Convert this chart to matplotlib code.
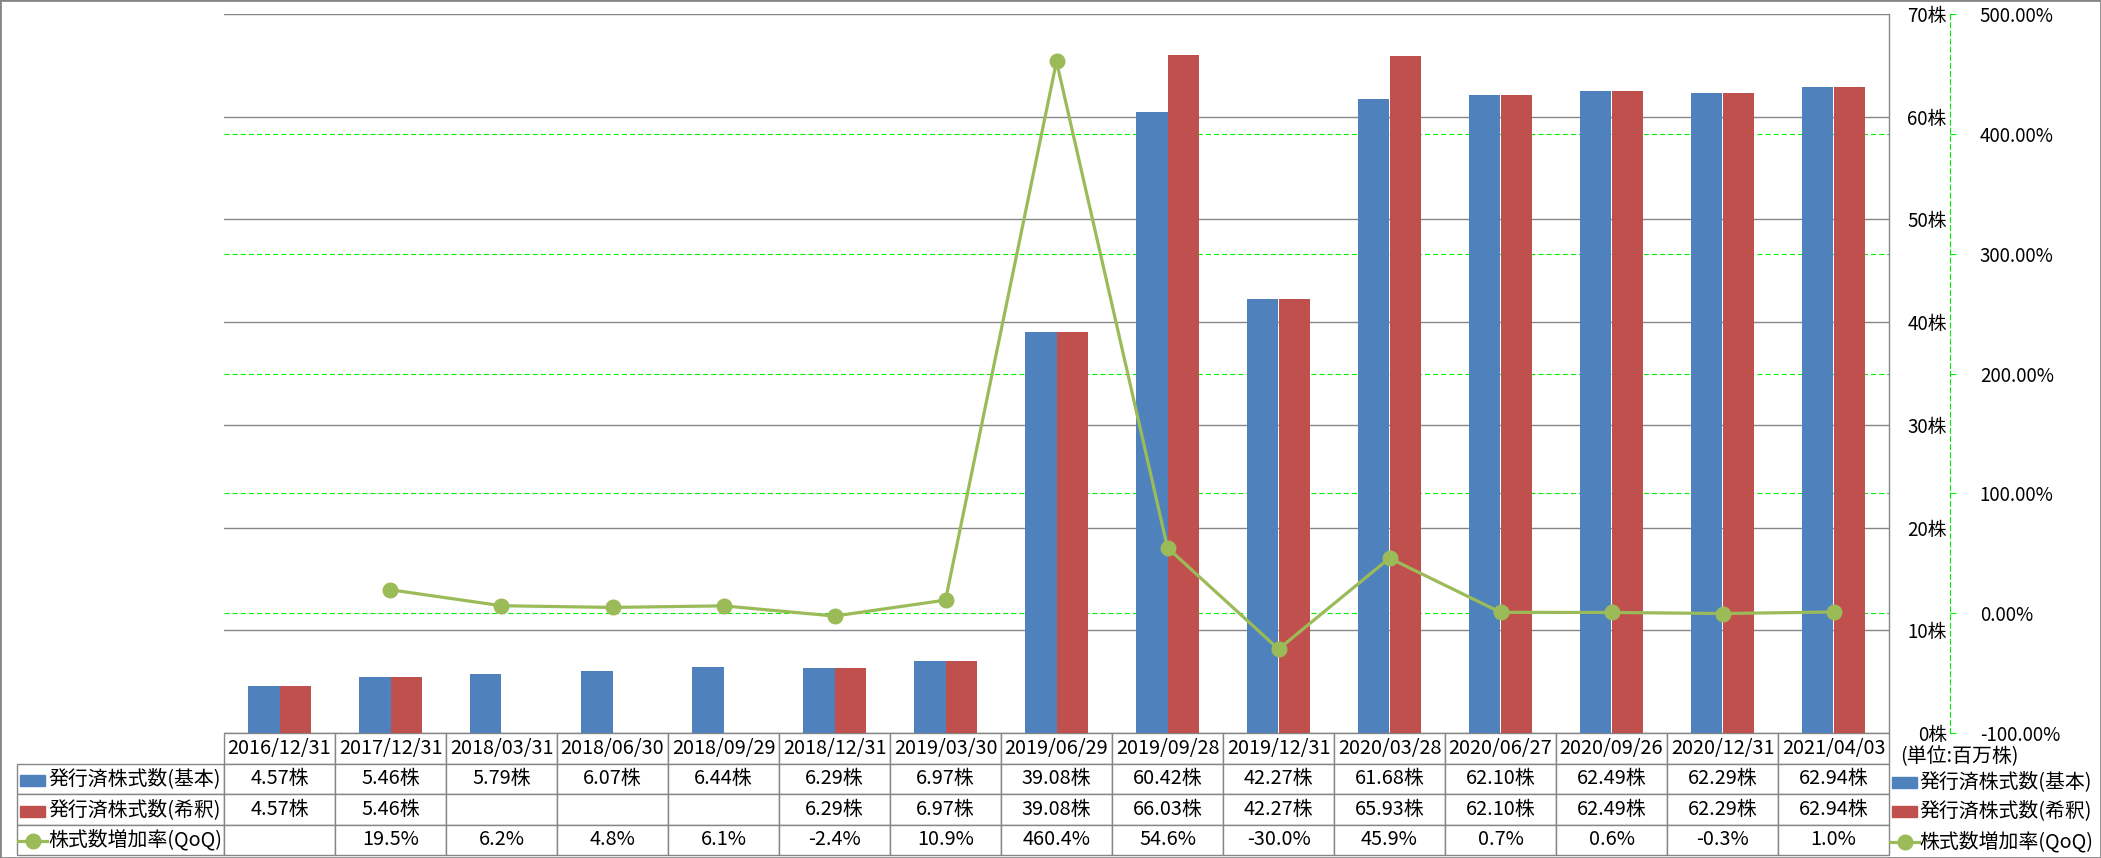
import numpy as np
import matplotlib
matplotlib.use("Agg")
import matplotlib.pyplot as plt
from matplotlib.patches import Rectangle
from matplotlib.lines import Line2D
from matplotlib.table import Table

plt.rcParams['font.family'] = ['Noto Sans CJK JP', 'DejaVu Sans']

# data
dates = ['2016/12/31', '2017/12/31', '2018/03/31', '2018/06/30', '2018/09/29',
         '2018/12/31', '2019/03/30', '2019/06/29', '2019/09/28', '2019/12/31',
         '2020/03/28', '2020/06/27', '2020/09/26', '2020/12/31', '2021/04/03']
basic = [4.57, 5.46, 5.79, 6.07, 6.44, 6.29, 6.97, 39.08, 60.42, 42.27,
         61.68, 62.10, 62.49, 62.29, 62.94]
diluted = [4.57, 5.46, np.nan, np.nan, np.nan, 6.29, 6.97, 39.08, 66.03, 42.27,
           65.93, 62.10, 62.49, 62.29, 62.94]
qoq = [np.nan, 19.5, 6.2, 4.8, 6.1, -2.4, 10.9, 460.4, 54.6, -30.0,
       45.9, 0.7, 0.6, -0.3, 1.0]
names = ['発行済株式数(基本)', '発行済株式数(希釈)', '株式数増加率(QoQ)']
share_ticks = [0, 10, 20, 30, 40, 50, 60, 70]
pct_ticks = [-1, 0, 1, 2, 3, 4, 5]

BLUE = '#4F81BD'
RED = '#C0504D'
GREEN = '#9BBB59'
LIME = '#00EE00'
GRAY = '#868686'
FS = 13.5     # tick labels
FS_T = 14.3   # table and legend text

W, H = 2101, 858
fig = plt.figure(figsize=(W / 100, H / 100), dpi=100)
fig.patch.set_facecolor('white')


def fx(x):
    return x / W


def fy(y):
    return 1 - y / H


rect = [fx(224), fy(733), 1665 / W, 719 / H]
ax = fig.add_axes(rect)
ax.patch.set_visible(False)

# axis behind everything holding the green % gridlines
axg = ax.twinx()
axg.set_zorder(ax.get_zorder() - 1)
axg.set_ylim(-1, 5)
axg.set_yticks(pct_ticks)
axg.tick_params(axis='y', length=0, labelright=False)
axg.grid(axis='y', color=LIME, lw=0.8, linestyle=(0, (4.5, 2.8)))
for s in axg.spines.values():
    s.set_visible(False)

# growth rate line on secondary axis
ax2 = ax.twinx()
ax2.set_zorder(ax.get_zorder() + 1)
ax2.patch.set_visible(False)

x = np.arange(len(dates))
bw = 0.28
ax.bar(x - bw / 2, basic, bw, color=BLUE, zorder=2)
ax.bar(x + bw / 2, diluted, bw, color=RED, zorder=2)
ax.set_xlim(-0.5, len(dates) - 0.5)
ax.set_ylim(0, 70)
ax.set_xticks([])
ax.set_axisbelow(True)
ax.grid(axis='y', color=GRAY, lw=1.0)
ax.yaxis.tick_right()
ax.set_yticks(share_ticks, [f'{v}株' for v in share_ticks])
ax.tick_params(axis='y', length=0, pad=41.5, labelsize=FS,
               labelleft=False, labelright=True)
for lab in ax.get_yticklabels():
    lab.set_horizontalalignment('right')
for k in ['left', 'top', 'bottom']:
    ax.spines[k].set_visible(False)
ax.spines['right'].set_color(GRAY)
ax.spines['right'].set_linewidth(1.0)

ax2.plot(x, np.array(qoq) / 100, color=GREEN, lw=2.3, marker='o',
         markersize=10.5, zorder=3)
ax2.set_ylim(-1, 5)
ax2.set_yticks(pct_ticks, [f'{v * 100:.2f}%' for v in pct_ticks])
ax2.get_yticklabels()[0].set_color('red')
ax2.tick_params(axis='y', length=4, color=LIME, pad=17.5, labelsize=FS)
for k in ['left', 'top', 'bottom']:
    ax2.spines[k].set_visible(False)
ax2.spines['right'].set_position(('axes', (1950 - 224) / 1665))
ax2.spines['right'].set_color(LIME)
ax2.spines['right'].set_linestyle((0, (4.5, 2.8)))
ax2.spines['right'].set_linewidth(0.8)

# data table under the plot (bbox covers the date columns only)
tbl = Table(ax, bbox=[0, -122 / 719, 1, 122 / 719])
rh = 0.25
lw_lab = 207 / 1665
cw = 1 / len(dates)
for j, d in enumerate(dates):
    tbl.add_cell(0, j, cw, rh, text=d, loc='center', edgecolor=GRAY)
rows = [
    [f'{v:.2f}株' if not np.isnan(v) else '' for v in basic],
    [f'{v:.2f}株' if not np.isnan(v) else '' for v in diluted],
    [f'{v:.1f}%' if not np.isnan(v) else '' for v in qoq],
]
for i, row in enumerate(rows):
    c = tbl.add_cell(i + 1, -1, lw_lab, rh, text=names[i], loc='left', edgecolor=GRAY)
    c.PAD = 0.15
    for j, t in enumerate(row):
        tbl.add_cell(i + 1, j, cw, rh, text=t, loc='center', edgecolor=GRAY)
tbl.auto_set_font_size(False)
tbl.set_fontsize(FS_T)
ax.add_table(tbl)


def key(xp, yp, kind, color):
    if kind == 'bar':
        fig.add_artist(Rectangle((fx(xp), fy(yp + 5.5)), 25 / W, 11 / H,
                                 transform=fig.transFigure, color=color))
    else:
        fig.add_artist(Line2D([fx(xp - 2), fx(xp + 12.5), fx(xp + 27)], [fy(yp)] * 3,
                              transform=fig.transFigure, color=color, lw=2.3,
                              marker='o', markersize=10.5, markevery=[1]))


kinds = ['bar', 'bar', 'line']
colors = [BLUE, RED, GREEN]
row_y = [780, 811, 841]
for k, c, yy in zip(kinds, colors, row_y):
    key(20, yy, k, c)

# legend at the right
fig.text(fx(1900), fy(757), '(単位:百万株)', fontsize=FS_T, va='center', ha='left')
leg_y = [782, 811, 842]
for k, c, yy, n in zip(kinds, colors, leg_y, names):
    key(1892, yy, k, c)
    fig.text(fx(1919), fy(yy), n, fontsize=FS_T, va='center', ha='left')

fig.add_artist(Rectangle((0, 0), 1, 1, transform=fig.transFigure, fill=False,
                         edgecolor=GRAY, lw=2))

fig.savefig('out.png', dpi=100)
